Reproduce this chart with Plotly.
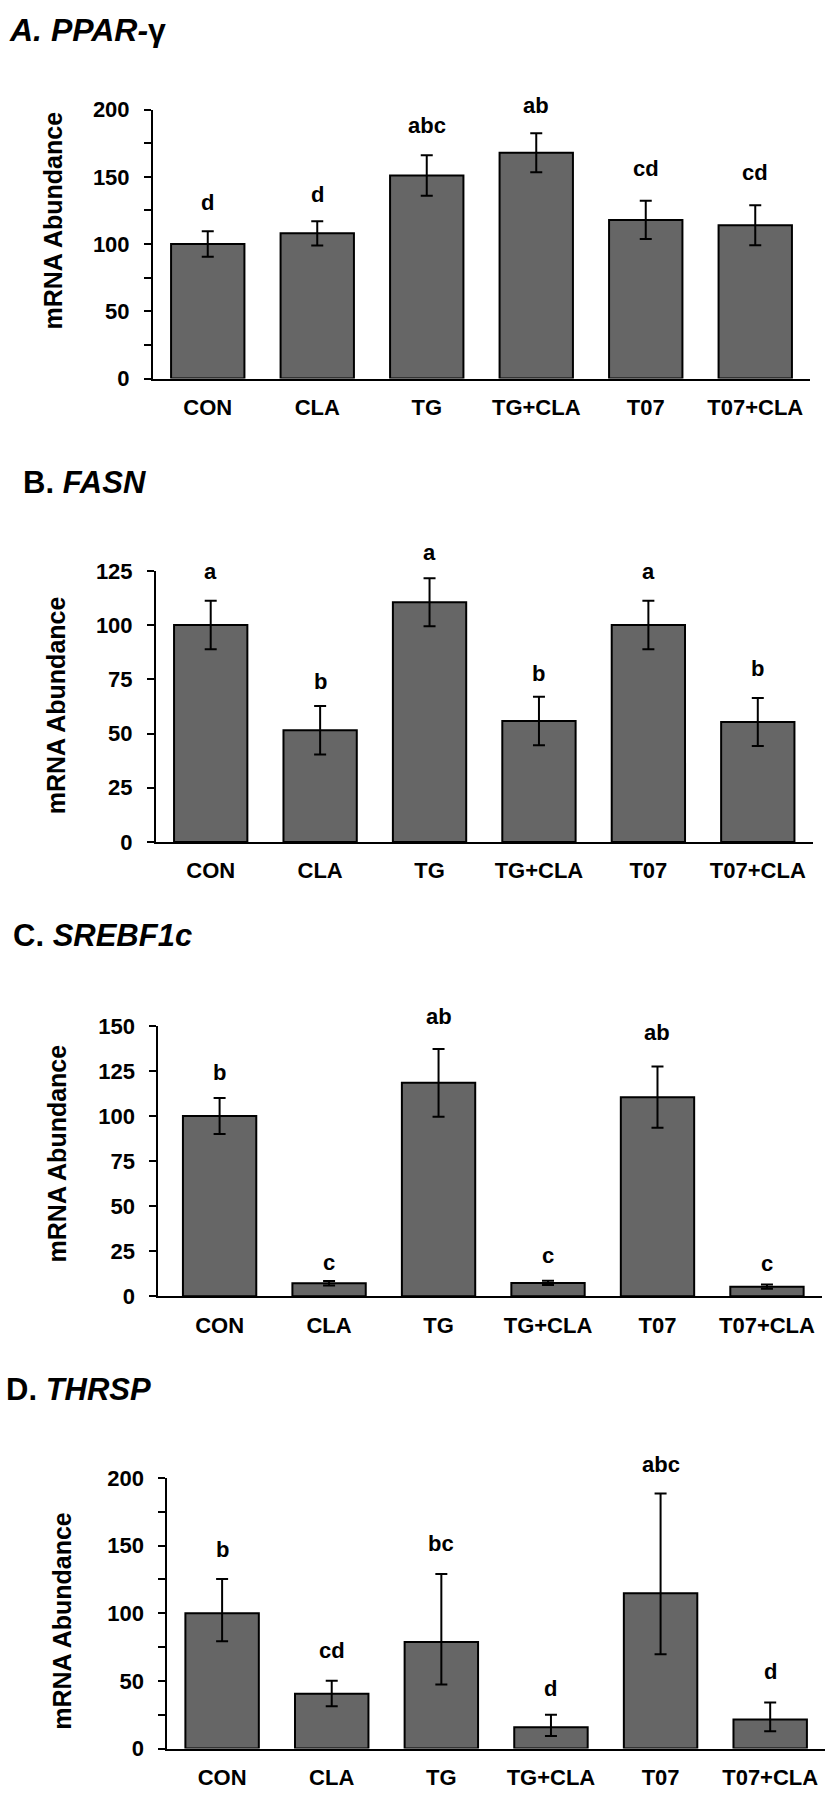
import plotly.graph_objects as go

categories = ["CON", "CLA", "TG", "TG+CLA", "T07", "T07+CLA"]

# Panel A: PPAR-gamma
ppar_mean = [100, 108, 151, 168, 118, 114]
ppar_err = [9.5, 9, 15, 14.5, 14.3, 14.8]
ppar_letters = ["d", "d", "abc", "ab", "cd", "cd"]
ppar_letter_y = [131, 137, 188, 203, 156, 153]

# Panel B: FASN
fasn_mean = [100, 51.5, 110.5, 55.8, 100, 55.3]
fasn_err = [11.2, 11.2, 11.1, 11.2, 11.2, 11.1]
fasn_letters = ["a", "b", "a", "b", "a", "b"]
fasn_letter_y = [124.5, 73.8, 133.6, 77.7, 124.5, 79.8]

# Panel C: SREBF1c
srebf_mean = [100, 7.2, 118.5, 7.4, 110.5, 5.3]
srebf_err = [10, 1.2, 18.8, 1.2, 17, 1.2]
srebf_letters = ["b", "c", "ab", "c", "ab", "c"]
srebf_letter_y = [124, 18.6, 155.5, 22.7, 146.4, 18.1]

# Panel D: THRSP
thrsp_mean = [100, 40.5, 78.8, 15.8, 114.9, 21.5]
thrsp_err_plus = [25.3, 9.7, 50.2, 9.2, 73.7, 12.6]
thrsp_err_minus = [20.6, 9.2, 31.5, 6.6, 45.1, 8.8]
thrsp_letters = ["b", "cd", "bc", "d", "abc", "d"]
thrsp_letter_y = [147, 72.7, 151.3, 44.1, 210, 57]

FONT = "Liberation Sans, Arial, sans-serif"
W, H = 830, 1800

panels = [
    dict(mean=ppar_mean, plus=ppar_err, minus=ppar_err, letters=ppar_letters,
         ly=ppar_letter_y, ymax=200, dtick=50, minor=True,
         xpx=(153, 810), ypx=(99, 371.7), xr=[-0.5, 5.5],
         title="<b><i>A. PPAR-</i>γ</b>", tx=7, ty=18.5, tsize=32,
         ytitle_xy=(53, 211.5)),
    dict(mean=fasn_mean, plus=fasn_err, minus=fasn_err, letters=fasn_letters,
         ly=fasn_letter_y, ymax=125, dtick=25, minor=False,
         xpx=(156, 812.5), ypx=(566.7, 841.7), xr=[-0.5, 5.5],
         title="<b>B. <i>FASN</i></b>", tx=21, ty=477.5, tsize=31,
         ytitle_xy=(56, 703)),
    dict(mean=srebf_mean, plus=srebf_err, minus=srebf_err, letters=srebf_letters,
         ly=srebf_letter_y, ymax=150, dtick=25, minor=False,
         xpx=(158.3, 821.7), ypx=(1028.3, 1302.3), xr=[-0.56, 5.5],
         title="<b>C. <i>SREBF1c</i></b>", tx=11, ty=937, tsize=31,
         ytitle_xy=(57, 1157.5)),
    dict(mean=thrsp_mean, plus=thrsp_err_plus, minus=thrsp_err_minus, letters=thrsp_letters,
         ly=thrsp_letter_y, ymax=200, dtick=50, minor=True,
         xpx=(167.3, 825), ypx=(1486.7, 1761), xr=[-0.5, 5.5],
         title="<b>D. <i>THRSP</i></b>", tx=4, ty=1397, tsize=31,
         ytitle_xy=(62, 1631.5)),
]

fig = go.Figure()
layout = dict(width=W, height=H, margin=dict(l=0, r=0, t=0, b=0),
              paper_bgcolor="white", plot_bgcolor="white", showlegend=False,
              font=dict(family=FONT, color="black"))
annotations = []

for i, p in enumerate(panels):
    n = "" if i == 0 else str(i + 1)
    xa, ya = "x" + n, "y" + n
    fig.add_trace(go.Bar(
        x=categories, y=p["mean"], xaxis=xa, yaxis=ya, width=0.67,
        marker=dict(color="#666666", line=dict(color="black", width=2)),
        error_y=dict(type="data", array=p["plus"], arrayminus=p["minus"],
                     symmetric=False, color="black", thickness=2, width=6),
        hoverinfo="skip",
    ))
    xdom = [p["xpx"][0] / W, p["xpx"][1] / W]
    ydom = [1 - p["ypx"][1] / H, 1 - p["ypx"][0] / H]
    layout["xaxis" + n] = dict(
        domain=xdom, anchor=ya, range=p["xr"], type="category",
        showline=True, linecolor="black", linewidth=2, ticks="",
        showgrid=False, zeroline=False, fixedrange=True,
        tickfont=dict(family=FONT, size=22, color="black", weight="bold"),
        ticklabelstandoff=8,
    )
    yaxis = dict(
        domain=ydom, anchor=xa, range=[0, p["ymax"]], dtick=p["dtick"], tick0=0,
        showline=True, linecolor="black", linewidth=2, ticks="outside",
        ticklen=7, tickwidth=2, tickcolor="black", showgrid=False, zeroline=False,
        tickfont=dict(family=FONT, size=22, color="black", weight="bold"),
        ticklabelstandoff=10, fixedrange=True,
    )
    if p["minor"]:
        yaxis["minor"] = dict(dtick=25, ticks="outside", ticklen=7, tickwidth=2,
                              tickcolor="black", showgrid=False)
    layout["yaxis" + n] = yaxis

    # significance letters: y given as a fraction of the axis range so that
    # letters above the top tick are still drawn
    for c, t, yv in zip(categories, p["letters"], p["ly"]):
        annotations.append(dict(x=c, y=yv / p["ymax"], xref=xa, yref=ya + " domain",
                                text="<b>" + t + "</b>", showarrow=False,
                                xanchor="center", yanchor="middle",
                                font=dict(family=FONT, size=22, color="black")))

    annotations.append(dict(x=p["tx"] / W, y=1 - p["ty"] / H, xref="paper", yref="paper",
                            text=p["title"], showarrow=False, xanchor="left",
                            yanchor="middle",
                            font=dict(family=FONT, size=p["tsize"], color="black")))
    annotations.append(dict(x=p["ytitle_xy"][0] / W, y=1 - p["ytitle_xy"][1] / H,
                            xref="paper", yref="paper", text="<b>mRNA Abundance</b>",
                            textangle=-90, showarrow=False, xanchor="center",
                            yanchor="middle",
                            font=dict(family=FONT, size=25, color="black")))

layout["annotations"] = annotations
fig.update_layout(**layout)
fig.write_html("out.html",
               post_script="document.body.style.margin='0';document.body.style.padding='0';")
